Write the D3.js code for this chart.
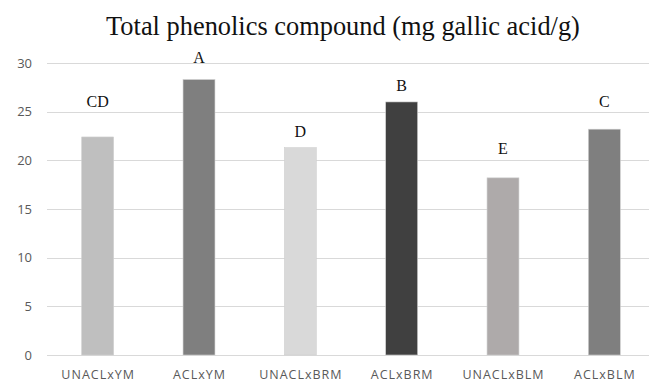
<!DOCTYPE html>
<html>
<head>
<meta charset="utf-8">
<script src="https://cdn.jsdelivr.net/npm/d3@7/dist/d3.min.js"></script>
<style>
  html, body { margin: 0; padding: 0; background: #fff; }
  svg { display: block; }
</style>
</head>
<body>
<svg id="chart" width="649" height="385"></svg>
<script>
// Treatments and their total phenolics content (mg gallic acid/g)
const categories = ["UNACLxYM", "ACLxYM", "UNACLxBRM", "ACLxBRM", "UNACLxBLM", "ACLxBLM"];
const values = [22.4, 28.3, 21.3, 26.0, 18.2, 23.2];
// Significance letters and the level (in axis units) where each sits
const letters = ["CD", "A", "D", "B", "E", "C"];
const letterLevels = [25.5, 30.0, 22.4, 27.1, 20.7, 25.5];
const barColors = ["#bfbfbf", "#7f7f7f", "#d9d9d9", "#404040", "#aeaaaa", "#7f7f7f"];
const yTicks = [0, 5, 10, 15, 20, 25, 30];
const titleText = "Total phenolics compound (mg gallic acid/g)";

(function () {
  const svg = d3.select("#chart");
  const W = 649;
  const plotLeft = 47, plotRight = 655, plotTop = 63, plotBottom = 355;

  const x = d3.scaleBand().domain(categories).range([plotLeft, plotRight])
    .paddingInner(0.685).paddingOuter(0.3425);
  const y = d3.scaleLinear().domain([0, 30]).range([plotBottom, plotTop]);

  // Title
  svg.append("text")
    .attr("x", 343).attr("y", 35)
    .attr("text-anchor", "middle")
    .style("font-family", "'Liberation Serif', 'Times New Roman', serif")
    .style("font-size", "26.4px")
    .style("fill", "#111")
    .text(titleText);

  // Gridlines
  svg.append("g").selectAll("line").data(yTicks).join("line")
    .attr("x1", plotLeft).attr("x2", W)
    .attr("y1", d => Math.round(y(d)) + 0.5).attr("y2", d => Math.round(y(d)) + 0.5)
    .attr("stroke", "#d9d9d9").attr("stroke-width", 1);

  // Y axis labels
  const yAxis = d3.axisLeft(y).tickValues(yTicks).tickSize(0).tickPadding(0);
  const gy = svg.append("g").attr("transform", "translate(32,0)").call(yAxis);
  gy.select(".domain").remove();
  gy.selectAll("text")
    .style("font-family", "'Open Sans', 'Liberation Sans', sans-serif")
    .style("font-size", "13px")
    .style("fill", "#595959");

  // Bars
  svg.append("g").selectAll("rect").data(categories).join("rect")
    .attr("x", d => x(d))
    .attr("y", (d, i) => y(values[i]))
    .attr("width", x.bandwidth())
    .attr("height", (d, i) => y(0) - y(values[i]))
    .attr("fill", (d, i) => barColors[i])
    .attr("stroke", "#cfcfcf").attr("stroke-width", 0.6);

  // Significance letters
  svg.append("g").selectAll("text").data(categories).join("text")
    .attr("x", d => x(d) + x.bandwidth() / 2)
    .attr("y", (d, i) => y(letterLevels[i]))
    .attr("text-anchor", "middle")
    .style("font-family", "'Liberation Serif', 'Times New Roman', serif")
    .style("font-size", "16px")
    .style("fill", "#111")
    .text((d, i) => letters[i]);

  // Category axis labels
  const xAxis = d3.axisBottom(x).tickSize(0).tickPadding(0);
  const gx = svg.append("g").attr("transform", "translate(0,370)").call(xAxis);
  gx.select(".domain").remove();
  gx.selectAll("text")
    .attr("dx", "0.5px")
    .style("font-family", "'Open Sans', 'Liberation Sans', sans-serif")
    .style("font-size", "12.5px")
    .style("letter-spacing", "1px")
    .style("fill", "#595959");
})();
</script>
</body>
</html>
